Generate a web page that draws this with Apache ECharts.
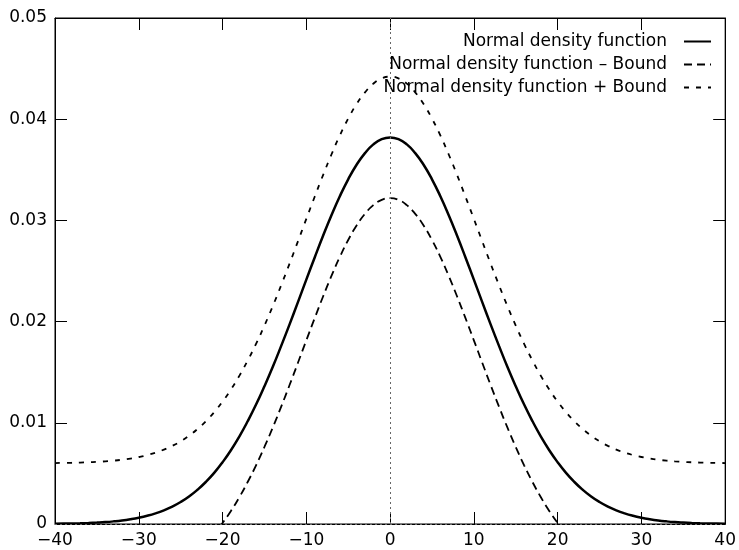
<!DOCTYPE html>
<html>
<head>
<meta charset="utf-8">
<script src="https://cdn.jsdelivr.net/npm/echarts@6/dist/echarts.min.js"></script>
<style>html,body{margin:0;padding:0;background:#fff}#c{width:739px;height:550px}</style>
</head>
<body>
<div id="c"></div>
<script>
var xs = [-40,-39,-38,-37,-36,-35,-34,-33,-32,-31,-30,-29,-28,-27,-26,-25,-24,-23,-22,-21,-20,-19,-18,-17,-16,-15,-14,-13,-12,-11,-10,-9,-8,-7,-6,-5,-4,-3,-2,-1,0,
  1,2,3,4,5,6,7,8,9,10,11,12,13,14,15,16,17,18,19,20,21,22,23,24,25,26,27,28,29,30,31,32,33,34,35,36,37,38,39,40];
var normal = [0.00002,0.00004,0.00005,0.00007,0.00010,0.00014,0.00019,0.00026,0.00035,0.00047,0.00062,0.00081,0.00105,0.00135,0.00172,0.00217,0.00272,0.00338,0.00415,0.00505,0.00610,0.00729,0.00864,0.01015,0.01180,0.01361,0.01554,0.01760,0.01973,0.02193,0.02415,0.02634,0.02848,0.03051,0.03239,0.03406,0.03550,0.03665,0.03751,0.03803,0.03820,
  0.03803,0.03751,0.03665,0.03550,0.03406,0.03239,0.03051,0.02848,0.02634,0.02415,0.02193,0.01973,0.01760,0.01554,0.01361,0.01180,0.01015,0.00864,0.00729,0.00610,0.00505,0.00415,0.00338,0.00272,0.00217,0.00172,0.00135,0.00105,0.00081,0.00062,0.00047,0.00035,0.00026,0.00019,0.00014,0.00010,0.00007,0.00005,0.00004,0.00002];
var minusBound = [-0.00598,-0.00596,-0.00595,-0.00593,-0.00590,-0.00586,-0.00581,-0.00574,-0.00565,-0.00553,-0.00538,-0.00519,-0.00495,-0.00465,-0.00428,-0.00383,-0.00328,-0.00262,-0.00185,-0.00095,0.00010,0.00129,0.00264,0.00415,0.00580,0.00761,0.00954,0.01160,0.01373,0.01593,0.01815,0.02034,0.02248,0.02451,0.02639,0.02806,0.02950,0.03065,0.03151,0.03203,0.03220,
  0.03203,0.03151,0.03065,0.02950,0.02806,0.02639,0.02451,0.02248,0.02034,0.01815,0.01593,0.01373,0.01160,0.00954,0.00761,0.00580,0.00415,0.00264,0.00129,0.00010,-0.00095,-0.00185,-0.00262,-0.00328,-0.00383,-0.00428,-0.00465,-0.00495,-0.00519,-0.00538,-0.00553,-0.00565,-0.00574,-0.00581,-0.00586,-0.00590,-0.00593,-0.00595,-0.00596,-0.00598];
var plusBound = [0.00602,0.00604,0.00605,0.00607,0.00610,0.00614,0.00619,0.00626,0.00635,0.00647,0.00662,0.00681,0.00705,0.00735,0.00772,0.00817,0.00872,0.00938,0.01015,0.01105,0.01210,0.01329,0.01464,0.01615,0.01780,0.01961,0.02154,0.02360,0.02573,0.02793,0.03015,0.03234,0.03448,0.03651,0.03839,0.04006,0.04150,0.04265,0.04351,0.04403,0.04420,
  0.04403,0.04351,0.04265,0.04150,0.04006,0.03839,0.03651,0.03448,0.03234,0.03015,0.02793,0.02573,0.02360,0.02154,0.01961,0.01780,0.01615,0.01464,0.01329,0.01210,0.01105,0.01015,0.00938,0.00872,0.00817,0.00772,0.00735,0.00705,0.00681,0.00662,0.00647,0.00635,0.00626,0.00619,0.00614,0.00610,0.00607,0.00605,0.00604,0.00602];
var seriesNames = ['Normal density function', 'Normal density function \u2013 Bound', 'Normal density function + Bound'];

function pairs(ys){ return xs.map(function(x,i){ return [x, ys[i]]; }); }
var FONT = 'DejaVu Sans';
var chart = echarts.init(document.getElementById('c'), null, {renderer:'canvas'});
var tickCommon = {show:true, inside:true, length:12, lineStyle:{color:'#000', width:1}};
var lineCommon = {show:true, onZero:false, lineStyle:{color:'#000', width:1}};
chart.setOption({
  animation:false,
  backgroundColor:'#fff',
  grid:{left:55, right:13, top:18, bottom:26, show:true, borderColor:'#000', borderWidth:1, backgroundColor:'transparent'},
  legend:{
    data: seriesNames,
    orient:'vertical', align:'right', right:22, top:28,
    itemWidth:27, itemHeight:14, itemGap:6,
    itemStyle:{opacity:0},
    textStyle:{fontFamily:FONT, fontSize:17, color:'#000', padding:[0,12,0,0]},
    selectedMode:false
  },
  xAxis:[{
    type:'value', min:-40, max:40, interval:10, position:'bottom',
    axisLine:lineCommon,
    axisTick:tickCommon,
    splitLine:{show:false},
    axisLabel:{fontFamily:FONT, fontSize:17, color:'#000', margin:8,
      formatter:function(v){ return String(v).replace('-', '\u2212'); }}
  },{
    type:'value', min:-40, max:40, interval:10, position:'top',
    axisLine:lineCommon,
    axisTick:tickCommon, axisLabel:{show:false}, splitLine:{show:false}
  }],
  yAxis:[{
    type:'value', min:0, max:0.05, interval:0.01, position:'left',
    axisLine:lineCommon,
    axisTick:tickCommon,
    splitLine:{show:false},
    axisLabel:{fontFamily:FONT, fontSize:17, color:'#000', margin:8,
      formatter:function(v){ return v === 0 ? '0' : v.toFixed(2); }}
  },{
    type:'value', min:0, max:0.05, interval:0.01, position:'right',
    axisLine:lineCommon,
    axisTick:tickCommon, axisLabel:{show:false}, splitLine:{show:false}
  }],
  series:[{
    name:seriesNames[0], type:'line', data:pairs(normal), smooth:true, symbol:'none', clip:true,
    lineStyle:{color:'#000', width:2.5}, itemStyle:{color:'#000'},
    markLine:{silent:true, symbol:'none', label:{show:false},
      lineStyle:{color:'#666', type:[2,3], width:1},
      data:[{xAxis:0},{yAxis:0}]}
  },{
    name:seriesNames[1], type:'line', data:pairs(minusBound), smooth:true, symbol:'none', clip:true,
    lineStyle:{color:'#000', width:1.8, type:[8,5]}, itemStyle:{color:'#000'}
  },{
    name:seriesNames[2], type:'line', data:pairs(plusBound), smooth:true, symbol:'none', clip:true,
    lineStyle:{color:'#000', width:1.8, type:[5,7]}, itemStyle:{color:'#000'}
  }]
});
</script>
</body>
</html>
